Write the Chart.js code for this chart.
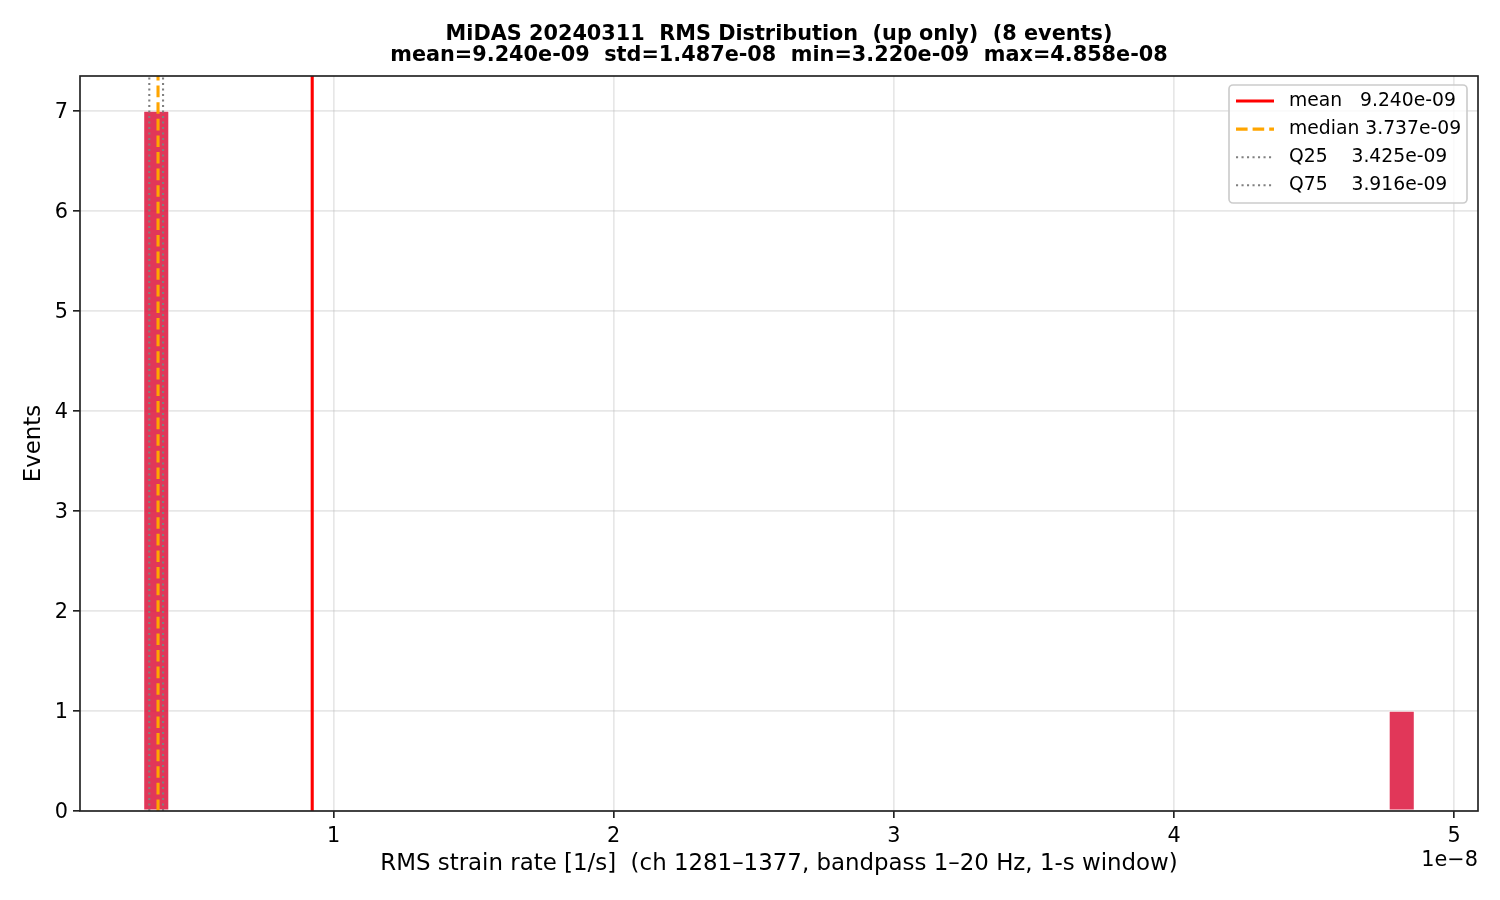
<!DOCTYPE html>
<html>
<head>
<meta charset="utf-8">
<title>MiDAS RMS Distribution</title>
<script src="https://cdn.jsdelivr.net/npm/chart.js@4.4.1/dist/chart.umd.min.js"></script>
<style>
  html, body { margin:0; padding:0; background:#fff; }
  #wrap { width:1500px; height:900px; }
</style>
</head>
<body>
<div id="wrap"><canvas id="rmsChart" width="1500" height="900"></canvas></div>
<script>
// histogram of RMS strain rate, 50 equal bins between min and max
const histMin = 3.220e-9;
const histMax = 4.858e-8;
const binCounts = [
  7, 0, 0, 0, 0, 0, 0, 0, 0, 0,
  0, 0, 0, 0, 0, 0, 0, 0, 0, 0,
  0, 0, 0, 0, 0, 0, 0, 0, 0, 0,
  0, 0, 0, 0, 0, 0, 0, 0, 0, 0,
  0, 0, 0, 0, 0, 0, 0, 0, 0, 1
];

// vertical reference lines (stats)
const refNames  = ['mean', 'median', 'Q25', 'Q75'];
const refValues = [9.240e-9, 3.737e-9, 3.425e-9, 3.916e-9];
const refLegend = ['mean   9.240e-09', 'median 3.737e-09', 'Q25    3.425e-09', 'Q75    3.916e-09'];

// ticks
const xTickValues = [1e-8, 2e-8, 3e-8, 4e-8, 5e-8];
const xTickLabels = ['1', '2', '3', '4', '5'];
const yTickValues = [0, 1, 2, 3, 4, 5, 6, 7];

const titleLines = [
  'MiDAS 20240311  RMS Distribution  (up only)  (8 events)',
  'mean=9.240e-09  std=1.487e-08  min=3.220e-09  max=4.858e-08'
];
const xLabel = 'RMS strain rate [1/s]  (ch 1281\u20131377, bandpass 1\u201320 Hz, 1-s window)';
const yLabel = 'Events';
const offsetText = '1e\u22128';

const FONT = '"DejaVu Sans", "Liberation Sans", sans-serif';

// axis limits like matplotlib's 5% margin
const span = histMax - histMin;
const xMin = histMin - 0.05 * span;
const xMax = histMax + 0.05 * span;
const yMax = 7.35;

const binWidth = span / binCounts.length;
const barData = binCounts.map((c, i) => ({ x: histMin + (i + 0.5) * binWidth, y: c }));

const refStyles = {
  mean:   { color: '#ff0000', width: 3.1, dash: [] },
  median: { color: '#ffa500', width: 3.1, dash: [11.6, 5] },
  Q25:    { color: '#808080', width: 2.1, dash: [2.1, 3.4] },
  Q75:    { color: '#808080', width: 2.1, dash: [2.1, 3.4] }
};

const lineSets = refNames.map((name, i) => {
  const st = refStyles[name];
  return {
    type: 'line',
    label: refLegend[i],
    data: [{ x: refValues[i], y: 0 }, { x: refValues[i], y: yMax }],
    borderColor: st.color,
    borderWidth: st.width,
    borderDash: st.dash,
    borderCapStyle: 'butt',
    pointRadius: 0,
    fill: false,
    order: refNames.length - i
  };
});

// spines, title, offset text and in-axes legend
const decorPlugin = {
  id: 'decor',
  afterDraw(chart) {
    const ctx = chart.ctx;
    const a = chart.chartArea;
    ctx.save();

    // frame
    ctx.strokeStyle = '#222';
    ctx.lineWidth = 1.67;
    ctx.strokeRect(a.left, a.top, a.right - a.left, a.bottom - a.top);

    // title
    const cx = (a.left + a.right) / 2;
    ctx.fillStyle = '#000';
    ctx.textAlign = 'center';
    ctx.textBaseline = 'alphabetic';
    ctx.font = 'bold 20.8px ' + FONT;
    ctx.fillText(titleLines[0], cx, 40);
    ctx.fillText(titleLines[1], cx, 61);

    // 1e-8 offset
    ctx.font = '20.8px ' + FONT;
    ctx.textAlign = 'right';
    ctx.textBaseline = 'middle';
    ctx.fillText(offsetText, a.right, 861);

    // legend box
    const bx = a.right - 249, by = a.top + 9, bw = 238, bh = 118;
    ctx.beginPath();
    ctx.roundRect(bx, by, bw, bh, 4);
    ctx.fillStyle = 'rgba(255,255,255,0.8)';
    ctx.fill();
    ctx.strokeStyle = '#cccccc';
    ctx.lineWidth = 1.67;
    ctx.stroke();

    ctx.font = '18.75px ' + FONT;
    ctx.textAlign = 'left';
    ctx.textBaseline = 'middle';
    lineSets.forEach((ds, i) => {
      const y = by + 16 + i * 28.1;
      ctx.beginPath();
      ctx.setLineDash(ds.borderDash);
      ctx.strokeStyle = ds.borderColor;
      ctx.lineWidth = ds.borderWidth;
      ctx.moveTo(bx + 7, y);
      ctx.lineTo(bx + 45, y);
      ctx.stroke();
      ctx.setLineDash([]);
      ctx.fillStyle = '#000';
      ctx.fillText(ds.label, bx + 60, y);
    });
    ctx.restore();
  }
};

const tickFont = { family: FONT, size: 20.8 };
const labelFont = { family: FONT, size: 22.9 };
const gridColor = 'rgba(176,176,176,0.3)';

new Chart(document.getElementById('rmsChart'), {
  type: 'bar',
  data: {
    datasets: [
      {
        type: 'bar',
        label: 'RMS',
        data: barData,
        backgroundColor: 'rgba(220,20,60,0.85)',
        borderColor: 'rgba(255,255,255,0.6)',
        borderWidth: 1,
        borderSkipped: false,
        categoryPercentage: 1.0,
        barPercentage: 1.0,
        order: 10
      },
      ...lineSets
    ]
  },
  options: {
    responsive: false,
    animation: false,
    devicePixelRatio: 1,
    layout: { padding: { top: 76, right: 22, left: 0, bottom: 0 } },
    plugins: {
      legend: { display: false },
      title: { display: false },
      tooltip: { enabled: false }
    },
    scales: {
      x: {
        type: 'linear',
        min: xMin,
        max: xMax,
        offset: false,
        afterBuildTicks: s => { s.ticks = xTickValues.map(v => ({ value: v })); },
        afterFit: s => { s.height = 89; },
        grid: { color: gridColor, lineWidth: 1.67, offset: false, drawTicks: true, tickLength: 7, tickColor: '#222', tickWidth: 1.67 },
        border: { display: false },
        ticks: {
          font: tickFont, color: '#000', padding: 6, maxRotation: 0, autoSkip: false,
          callback: (v, i) => xTickLabels[i]
        },
        title: { display: true, text: xLabel, font: labelFont, color: '#000', padding: { top: 0, bottom: 22 } }
      },
      y: {
        min: 0,
        max: yMax,
        afterBuildTicks: s => { s.ticks = yTickValues.map(v => ({ value: v })); },
        afterFit: s => { s.width = 80; },
        grid: { color: gridColor, lineWidth: 1.67, drawTicks: true, tickLength: 7, tickColor: '#222', tickWidth: 1.67 },
        border: { display: false },
        ticks: { font: tickFont, color: '#000', padding: 5, labelOffset: 1.5, callback: v => String(v) },
        title: { display: true, text: yLabel, font: labelFont, color: '#000', padding: { top: 20, bottom: 0 } }
      }
    }
  },
  plugins: [decorPlugin]
});
</script>
</body>
</html>
